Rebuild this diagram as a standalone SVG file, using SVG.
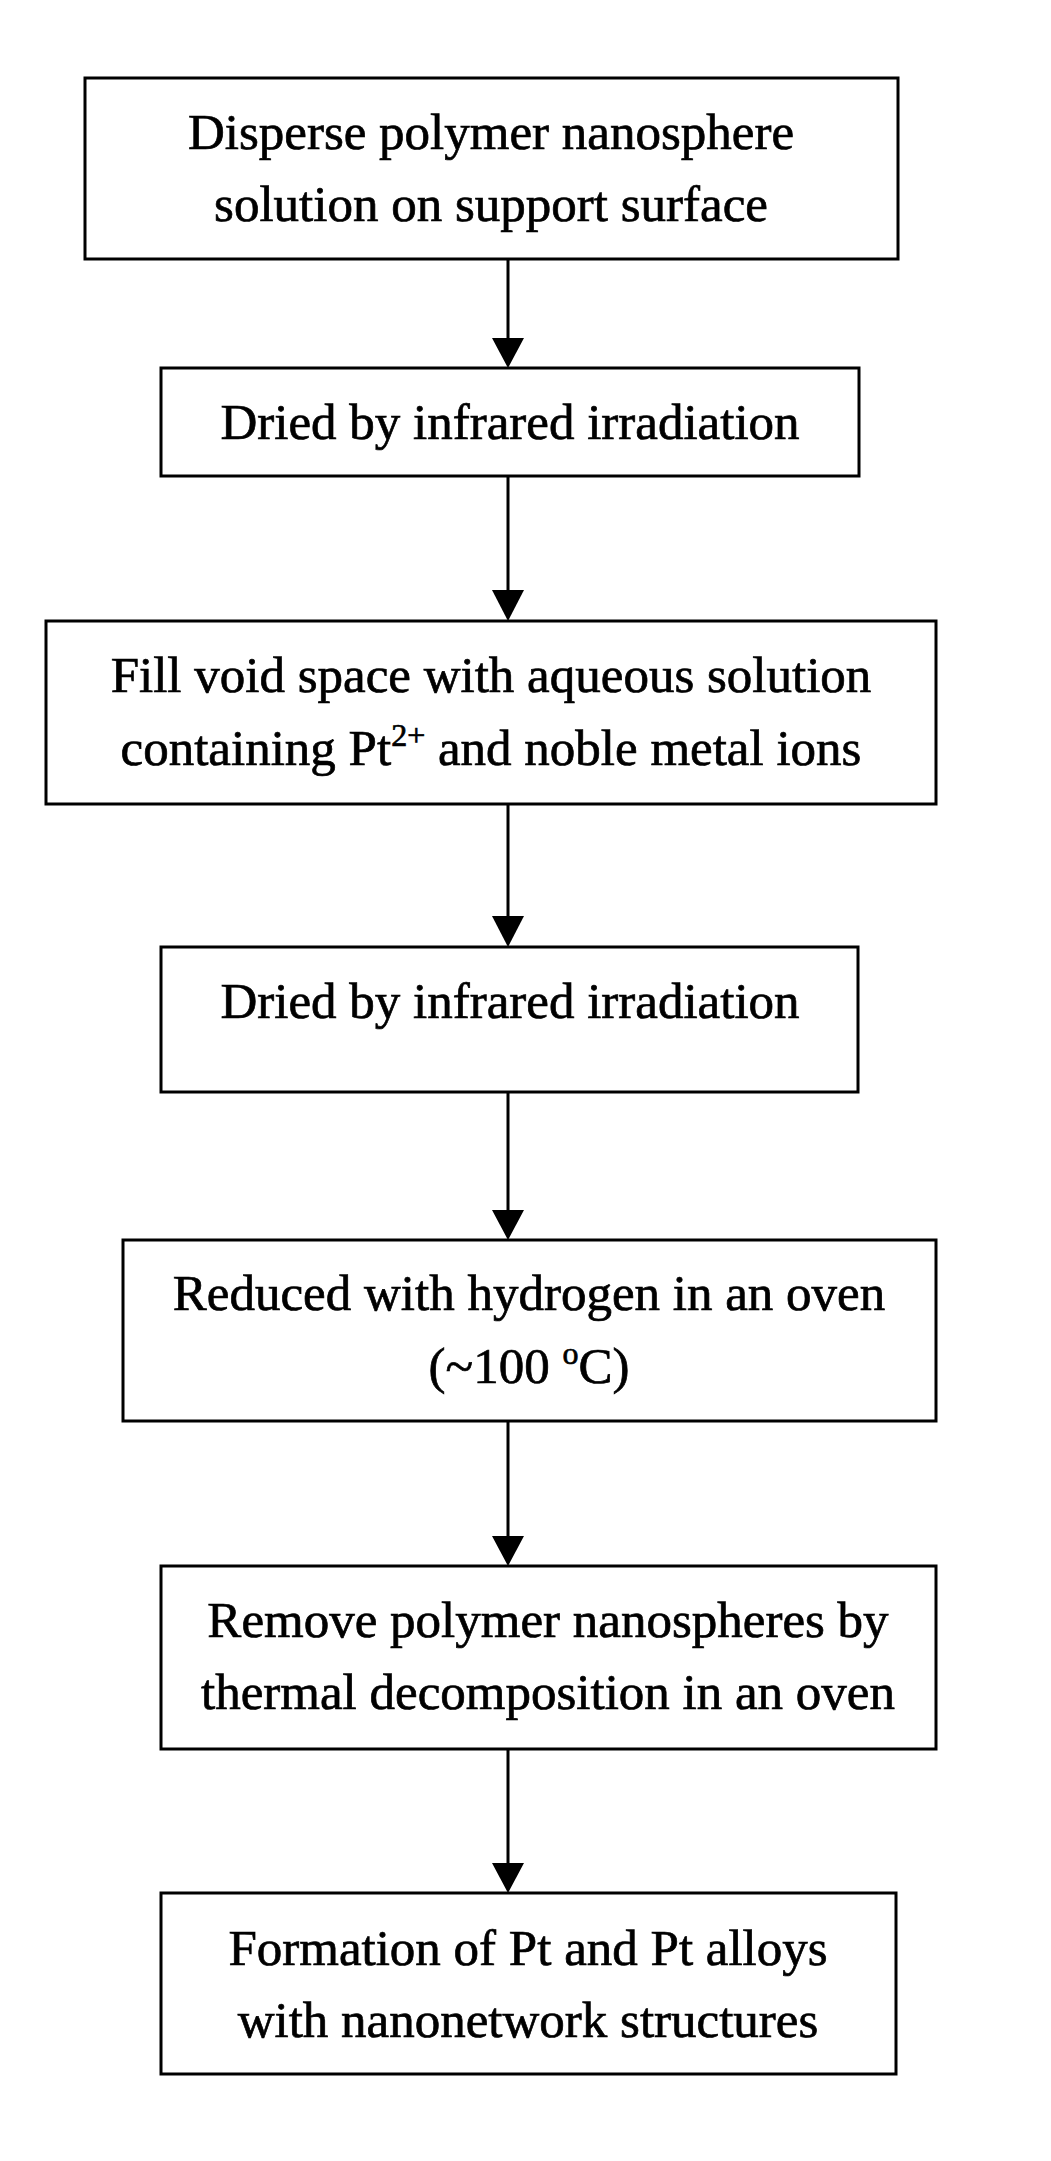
<svg xmlns="http://www.w3.org/2000/svg" width="1051" height="2161" viewBox="0 0 1051 2161">
<style>
rect{fill:#fff;stroke:#000;stroke-width:3}
text{font-family:"Liberation Serif",serif;font-size:51px;text-anchor:middle;fill:#000;stroke:#000;stroke-width:0.7}
.c line{stroke:#000;stroke-width:3}
.c path{fill:#000}
</style>
<rect x="0" y="0" width="1051" height="2161" style="stroke:none"/>
<g id="n1"><rect x="85" y="78" width="813" height="181"/><text x="491" y="149">Disperse polymer nanosphere</text><text x="491" y="221">solution on support surface</text></g>
<g id="n2"><rect x="161" y="368" width="698" height="108"/><text x="510" y="439">Dried by infrared irradiation</text></g>
<g id="n3"><rect x="46" y="621" width="890" height="183"/><text x="491" y="692">Fill void space with aqueous solution</text><text x="491" y="765">containing Pt<tspan dy="-19" font-size="32">2+</tspan><tspan dy="19"> and noble metal ions</tspan></text></g>
<g id="n4"><rect x="161" y="947" width="697" height="145"/><text x="510" y="1018">Dried by infrared irradiation</text></g>
<g id="n5"><rect x="123" y="1240" width="813" height="181"/><text x="529" y="1310">Reduced with hydrogen in an oven</text><text x="529" y="1383">(~100 <tspan dy="-19" font-size="32">o</tspan><tspan dy="19">C)</tspan></text></g>
<g id="n6"><rect x="161" y="1566" width="775" height="183"/><text x="548" y="1637">Remove polymer nanospheres by</text><text x="548" y="1709">thermal decomposition in an oven</text></g>
<g id="n7"><rect x="161" y="1893" width="735" height="181"/><text x="528" y="1965">Formation of Pt and Pt alloys</text><text x="528" y="2037">with nanonetwork structures</text></g>
<g class="c" id="connectors">
<line x1="508" y1="259" x2="508" y2="340"/><path d="M492,338 L524,338 L508,368 Z"/>
<line x1="508" y1="476" x2="508" y2="592"/><path d="M492,590 L524,590 L508,621 Z"/>
<line x1="508" y1="804" x2="508" y2="918"/><path d="M492,916 L524,916 L508,947 Z"/>
<line x1="508" y1="1092" x2="508" y2="1212"/><path d="M492,1210 L524,1210 L508,1240 Z"/>
<line x1="508" y1="1421" x2="508" y2="1538"/><path d="M492,1536 L524,1536 L508,1566 Z"/>
<line x1="508" y1="1749" x2="508" y2="1865"/><path d="M492,1863 L524,1863 L508,1893 Z"/>
</g>
</svg>
